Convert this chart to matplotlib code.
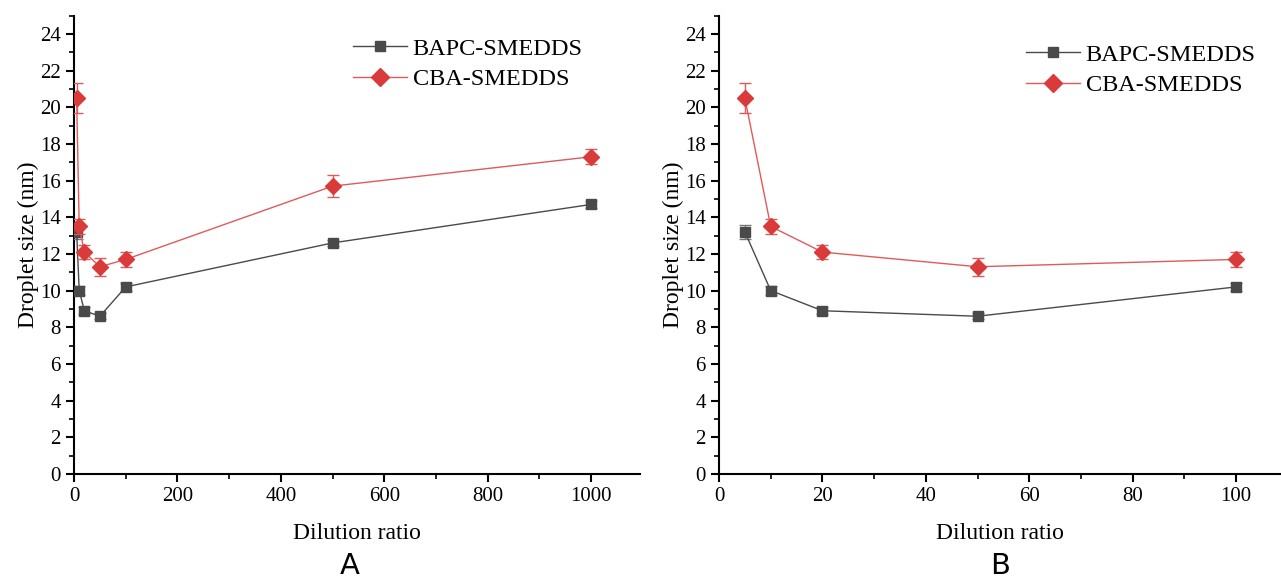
import matplotlib
matplotlib.use("Agg")
import matplotlib.pyplot as plt
from matplotlib.ticker import MultipleLocator

plt.rcParams["font.family"] = ["Liberation Serif", "DejaVu Serif"]

# data
dilution_a = [5, 10, 20, 50, 100, 500, 1000]
bapc_a = [13.2, 10.0, 8.9, 8.6, 10.2, 12.6, 14.7]
bapc_a_err = [0.4, 0.25, 0.2, 0.15, 0.2, 0.15, 0.2]
cba_a = [20.5, 13.5, 12.1, 11.3, 11.7, 15.7, 17.3]
cba_a_err = [0.8, 0.4, 0.4, 0.5, 0.4, 0.6, 0.4]

dilution_b = [5, 10, 20, 50, 100]
bapc_b = [13.2, 10.0, 8.9, 8.6, 10.2]
bapc_b_err = [0.4, 0.25, 0.2, 0.15, 0.2]
cba_b = [20.5, 13.5, 12.1, 11.3, 11.7]
cba_b_err = [0.8, 0.4, 0.4, 0.5, 0.4]

series_names = ["BAPC-SMEDDS", "CBA-SMEDDS"]

GRAY = "#4a4a4a"
RED = "#d93b3b"
RED_LINE = "#e05a5a"


def draw_panel(ax, x, bapc, bapc_err, cba, cba_err, xmax, xmajor, letter, letter_frac, leg_anchor):
    b = ax.errorbar(x, bapc, yerr=bapc_err, color=GRAY, lw=1.0, marker="s", ms=7,
                    mfc=GRAY, mec=GRAY, ecolor="#777777", elinewidth=1, capsize=4,
                    zorder=3)
    c = ax.errorbar(x, cba, yerr=cba_err, color=RED_LINE, lw=1.0, marker="D", ms=8,
                    mfc=RED, mec=RED, ecolor=RED_LINE, elinewidth=1, capsize=4,
                    zorder=4)
    ax.set_xlim(0, xmax)
    ax.set_ylim(0, 25)
    ax.xaxis.set_major_locator(MultipleLocator(xmajor))
    ax.xaxis.set_minor_locator(MultipleLocator(xmajor / 2))
    ax.yaxis.set_major_locator(MultipleLocator(2))
    ax.yaxis.set_minor_locator(MultipleLocator(1))
    ax.tick_params(which="major", direction="out", length=6, width=1.5, labelsize=15)
    ax.tick_params(which="minor", direction="out", length=3.5, width=1.2)
    for side in ("top", "right"):
        ax.spines[side].set_visible(False)
    for side in ("left", "bottom"):
        ax.spines[side].set_linewidth(1.5)
    ax.set_xlabel("Dilution ratio", fontsize=17, labelpad=12)
    ax.set_ylabel("Droplet size (nm)", fontsize=17, labelpad=1)
    ax.legend([b[0], c[0]], series_names, loc="upper left", bbox_to_anchor=leg_anchor,
              bbox_transform=fig.transFigure, frameon=False, fontsize=17.5,
              handlelength=2.2, handletextpad=0.25, labelspacing=0.35,
              borderpad=0, borderaxespad=0, markerscale=1.1)
    pos = ax.get_position()
    fig.text(pos.x0 + pos.width * letter_frac, 0.0, letter, ha="center", va="bottom",
             fontsize=21, family="DejaVu Sans")


fig = plt.figure(figsize=(12.81, 5.8), dpi=100)
ax_a = fig.add_axes([0.0578, 0.183, 0.442, 0.79])
ax_b = fig.add_axes([0.5613, 0.183, 0.4387, 0.79])

draw_panel(ax_a, dilution_a, bapc_a, bapc_a_err, cba_a, cba_a_err, 1095, 200, "A", 0.487,
           (0.2756, 0.935))
draw_panel(ax_b, dilution_b, bapc_b, bapc_b_err, cba_b, cba_b_err, 108.7, 20, "B", 0.5,
           (0.801, 0.925))

fig.savefig("out.png", dpi=100)
